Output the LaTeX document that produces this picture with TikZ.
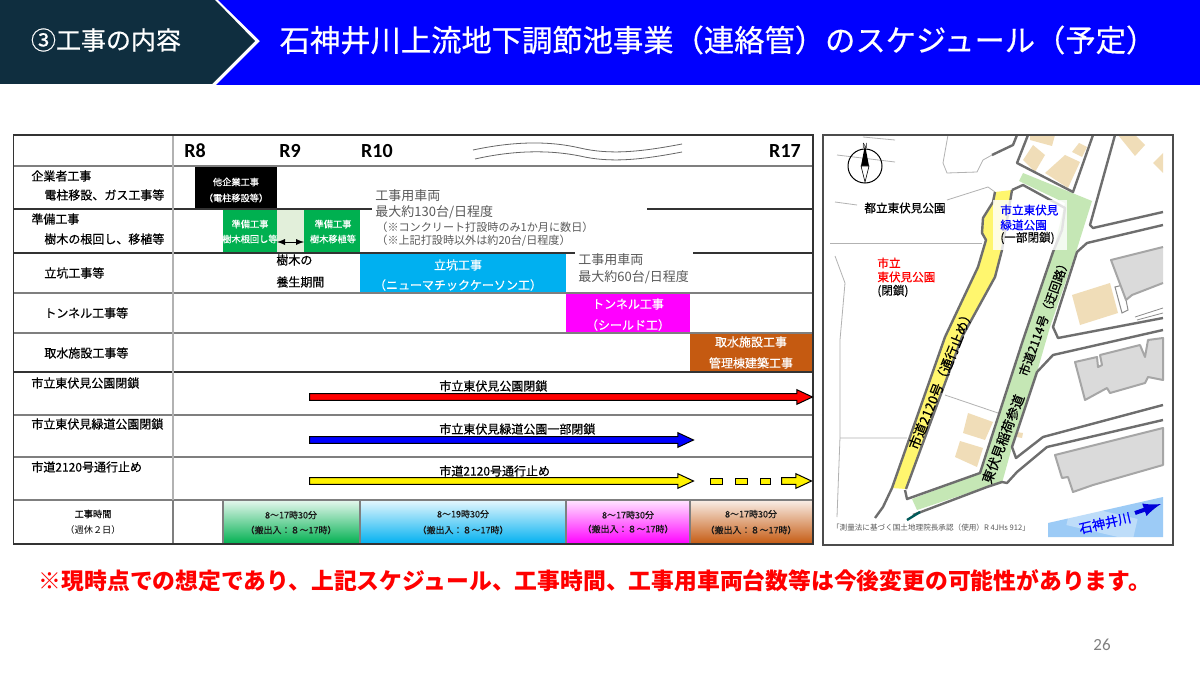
\documentclass[tikz,border=0pt]{standalone}
\usepackage{fontspec}
\setmainfont{Noto Sans CJK JP}
\newfontfamily\midfont[FakeBold=0.5]{Noto Sans CJK JP}
\newfontfamily\latinfont{Carlito}
\usetikzlibrary{shapes.arrows}
\definecolor{headdark}{HTML}{0F2E3F}
\definecolor{headblue}{HTML}{0000FF}
\definecolor{gridgray}{HTML}{7F7F7F}
\definecolor{greenbar}{HTML}{00B050}
\definecolor{greenpale}{HTML}{E2EFDA}
\definecolor{bluebar}{HTML}{00B0F0}
\definecolor{pinkbar}{HTML}{FF00FF}
\definecolor{brownbar}{HTML}{C55A11}
\definecolor{notegray}{HTML}{595959}
\definecolor{roadgray}{HTML}{6E6E6E}
\definecolor{roadgreen}{HTML}{C5E7B5}
\definecolor{roadyellow}{HTML}{FFF66E}
\definecolor{housetan}{HTML}{F0DDB8}
\definecolor{blockgray}{HTML}{DADADA}
\definecolor{rivercol}{HTML}{9CCBF6}
\begin{document}
\begin{tikzpicture}[
  x=0.5pt, y=-0.5pt,
  lab/.style={inner sep=0pt, font=\midfont\fontsize{6}{7}\selectfont},
  labl/.style={lab, anchor=west},
  barlab/.style={inner sep=0pt, text=white, font=\midfont\fontsize{4.6}{6}\selectfont},
  barbig/.style={inner sep=0pt, text=white, font=\midfont\fontsize{6}{7}\selectfont},
  hourlab/.style={inner sep=0pt, text=black!90, font=\midfont\fontsize{4.5}{6}\selectfont},
  yearlab/.style={inner sep=0pt, font=\latinfont\bfseries\fontsize{10}{11}\selectfont},
  carnote/.style={inner sep=0pt, anchor=west, text=notegray, font=\fontsize{6.5}{8}\selectfont},
  carsmall/.style={inner sep=0pt, anchor=west, text=notegray, font=\fontsize{5.55}{7}\selectfont},
  maplab/.style={inner sep=0pt, anchor=west, font=\midfont\fontsize{5.8}{7}\selectfont},
  roadlab/.style={inner sep=0pt, font=\midfont\fontsize{6.7}{8}\selectfont},
  barrow/.style={
    single arrow, draw=black, line width=0.5pt, anchor=tail,
    inner sep=0pt, text height=2.8pt, text depth=0pt, text width=0pt,
    single arrow head extend=2pt, single arrow tip angle=50,
    single arrow head indent=0pt
  },
  dashbox/.style={draw=black, line width=0.5pt, fill=yellow},
  rowline/.style={draw=gridgray, line width=0.7pt},
  rowdark/.style={draw=black!80, line width=0.7pt},
  road/.style={draw=roadgray, line width=1.2pt, line join=round},
  thinroad/.style={draw=black!30, line width=0.4pt},
  block/.style={draw=black!35, line width=1pt, fill=blockgray, line join=round}
]
\useasboundingbox (0,0) rectangle (1200,674);
\fill[white] (0,0) rectangle (1200,674);

% header
\fill[headblue] (218,0) -- (260,41) -- (216,85) -- (1200,85) -- (1200,0) -- cycle;
\fill[headdark] (0,0) -- (215,0) -- (255,41) -- (212,84) -- (0,84) -- cycle;
\node[inner sep=0pt, text=white, font=\midfont\fontsize{12.5}{14}\selectfont] (section) at (106,40) {③工事の内容};
\node[inner sep=0pt, text=white, font=\midfont\fontsize{15.15}{17}\selectfont] (title) at (718,40) {石神井川上流地下調節池事業（連絡管）のスケジュール（予定）};

% bars
\fill[black] (195,166) rectangle (277,209);
\fill[greenbar] (223,209) rectangle (277,253);
\fill[greenpale] (277,209) rectangle (304,253);
\fill[greenbar] (304,209) rectangle (360,253);
\fill[bluebar] (360,253) rectangle (566,293);
\fill[pinkbar] (566,293) rectangle (690,333);
\fill[brownbar] (690,333) rectangle (813,372);
\shade[top color=greenbar!10, bottom color=greenbar] (223,500) rectangle (360,544);
\shade[top color=bluebar!10, bottom color=bluebar] (360,500) rectangle (566,544);
\shade[top color=pinkbar!10, bottom color=pinkbar] (566,500) rectangle (690,544);
\shade[top color=brownbar!10, bottom color=brownbar] (690,500) rectangle (813,544);

% grid
\draw[rowline] (13.5,166) -- (813,166);
\draw[rowdark] (13.5,209) -- (372,209) (647,209) -- (813,209);
\draw[rowdark] (13.5,253) -- (575,253) (693,253) -- (813,253);
\draw[rowline] (13.5,293) -- (813,293);
\draw[rowline] (13.5,333) -- (813,333);
\draw[rowdark] (13.5,372) -- (813,372);
\draw[rowline] (13.5,415) -- (813,415);
\draw[rowline] (13.5,457) -- (813,457);
\draw[rowline] (13.5,500) -- (813,500);
\draw[draw=black!30, line width=0.7pt] (173,135) -- (173,500);
\draw[rowline] (173,500) -- (173,544) (223,500) -- (223,544) (360,500) -- (360,544) (566,500) -- (566,544) (690,500) -- (690,544);
\draw[rowdark] (13.5,135) rectangle (813,544);

% years
\node[yearlab] (yeara) at (195,151) {R8};
\node[yearlab] (yearb) at (290,151) {R9};
\node[yearlab] (yearc) at (377,151) {R10};
\node[yearlab] (yeard) at (785,151) {R17};
\draw[draw=black!60, line width=0.4pt] (473,150) .. controls (515,141) and (550,141) .. (580,148) .. controls (610,155) and (640,152) .. (682,144);
\draw[draw=black!60, line width=0.4pt] (475,159) .. controls (515,150) and (550,150) .. (580,156) .. controls (610,163) and (640,160) .. (682,152);

% left column
\node[labl] (rowa) at (31,176) {企業者工事};
\node[labl] (rowasub) at (44,195) {電柱移設、ガス工事等};
\node[labl] (rowb) at (31,219) {準備工事};
\node[labl] (rowbsub) at (44,239) {樹木の根回し、移植等};
\node[labl] (rowc) at (44,273) {立坑工事等};
\node[labl] (rowd) at (44,313) {トンネル工事等};
\node[labl] (rowe) at (44,353) {取水施設工事等};
\node[labl] (rowf) at (31,383) {市立東伏見公園閉鎖};
\node[labl] (rowg) at (31,424) {市立東伏見緑道公園閉鎖};
\node[labl] (rowh) at (31,467) {市道2120号通行止め};
\node[inner sep=0pt, font=\midfont\fontsize{4.6}{6}\selectfont] (rowi) at (93,514) {工事時間};
\node[inner sep=0pt, font=\fontsize{4.6}{6}\selectfont] (rowisub) at (93,530) {（週休２日）};

% bar texts
\node[barlab] (othera) at (236,182) {他企業工事};
\node[barlab] (otherb) at (236,198) {（電柱移設等）};
\node[barlab] (prepa) at (250,224) {準備工事};
\node[barlab] (prepb) at (250,239) {樹木根回し等};
\node[barlab] (prepc) at (333,224) {準備工事};
\node[barlab] (prepd) at (333,239) {樹木移植等};
\coordinate (curel) at (277,242);
\coordinate (curer) at (304,242);
\draw[latex-latex, line width=0.4pt] (curel) -- (curer);
\node[labl] (curea) at (276,260) {樹木の};
\node[labl] (cureb) at (276,282) {養生期間};
\node[barbig] (shafta) at (458,265) {立坑工事};
\node[barbig] (shaftb) at (458,285) {（ニューマチックケーソン工）};
\node[barbig] (tunnela) at (628,304) {トンネル工事};
\node[barbig] (tunnelb) at (628,325) {（シールド工）};
\node[barbig] (intakea) at (751,342) {取水施設工事};
\node[barbig] (intakeb) at (751,363) {管理棟建築工事};

% vehicle notes
\node[carnote] (cara) at (375,196) {工事用車両};
\node[carnote] (carb) at (375,212) {最大約130台/日程度};
\node[carsmall] (carc) at (376,227) {（※コンクリート打設時のみ1か月に数日）};
\node[carsmall] (card) at (376,241) {（※上記打設時以外は約20台/日程度）};
\node[carnote] (care) at (578,260) {工事用車両};
\node[carnote] (carf) at (578,277) {最大約60台/日程度};

% closure arrows
\node[barrow, fill=red, minimum height=251.5pt] (parkbar) at (309,397) {};
\node[barrow, fill=blue, minimum height=192pt] (greenway) at (309,440) {};
\node[barrow, fill=yellow, minimum height=192pt] (roadbar) at (309,481) {};
\node[dashbox, minimum width=6pt, minimum height=3pt, inner sep=0pt] (dasha) at (716,481) {};
\node[dashbox, minimum width=6pt, minimum height=3pt, inner sep=0pt] (dashb) at (741,481) {};
\node[dashbox, minimum width=5pt, minimum height=3pt, inner sep=0pt] (dashc) at (765,481) {};
\node[barrow, fill=yellow, minimum height=15pt] (dashend) at (781,481) {};
\node[labl] (parktxt) at (439,386) {市立東伏見公園閉鎖};
\node[labl] (greentxt) at (439,429) {市立東伏見緑道公園一部閉鎖};
\node[labl] (roadtxt) at (439,471) {市道2120号通行止め};

% hours
\node[hourlab] (hoursa) at (291,515) {8～17時30分};
\node[hourlab] (hoursb) at (291,530) {（搬出入：８～17時）};
\node[hourlab] (hoursc) at (463,514) {8～19時30分};
\node[hourlab] (hoursd) at (463,530) {（搬出入：８～17時）};
\node[hourlab] (hourse) at (628,515) {8～17時30分};
\node[hourlab] (hoursf) at (628,529) {（搬出入：８～17時）};
\node[hourlab] (hoursg) at (751,514) {8～17時30分};
\node[hourlab] (hoursh) at (751,530) {（搬出入：８～17時）};

% map
\draw[thinroad] (948,135) -- (943,163) -- (947,173) -- (977,172) -- (983,160) -- (992,155);
\draw[thinroad] (835,202) -- (857,205) (947,200) -- (988,187) -- (995,192);
\draw[thinroad] (830,243) -- (982,243);
\draw[thinroad] (835,256) -- (845,283) -- (840,340) -- (840,437) -- (837,517);
\draw[thinroad] (840,438) -- (907,438) (945,395) -- (998,413);
\draw[thinroad] (837,155) -- (895,162) (863,137) -- (895,140);
\fill[housetan] (1023,160) -- (1033,145) -- (1045,155) -- (1035,172) -- cycle;
\fill[housetan] (1030,135) -- (1055,135) -- (1052,146) -- (1030,140) -- cycle;
\fill[housetan] (1045,173) -- (1065,155) -- (1080,162) -- (1068,188) -- cycle;
\fill[housetan] (1072,152) -- (1079,143) -- (1087,147) -- (1082,157) -- cycle;
\fill[housetan] (1118,135) -- (1135,135) -- (1145,145) -- (1135,156) -- cycle;
\fill[housetan] (1153,163) -- (1163,153) -- (1163,173) -- cycle;
\fill[housetan] (1072,295) -- (1110,283) -- (1118,313) -- (1080,325) -- cycle;
\fill[housetan] (968,413) -- (993,422) -- (985,440) -- (963,433) -- cycle;
\fill[housetan] (960,441) -- (983,448) -- (977,467) -- (955,457) -- cycle;
\fill[housetan] (1017,432) -- (1023,433) -- (1022,438) -- (1017,437) -- cycle;
\draw[draw=black!45, line width=0.5pt, fill=white] (1115,287) -- (1123,285) -- (1128,310) -- (1122,313) -- cycle;
\draw[draw=black!45, line width=0.4pt] (1135,317) -- (1163,308) (1137,320) -- (1163,313);
\fill[blockgray] (1163,247) -- (1111,260) -- (1126,300) -- (1132,295) -- (1163,283) -- cycle;
\draw[block, fill=none] (1163,247) -- (1111,260) -- (1126,300) -- (1132,295) -- (1163,283);
\draw[block] (1075,362) -- (1097,357) -- (1098,367) -- (1102,365) -- (1100,355) -- (1140,345) -- (1145,357) -- (1148,340) -- (1163,338) -- (1163,380) -- (1148,377) -- (1145,383) -- (1110,393) -- (1107,388) -- (1085,400) -- cycle;
\draw[block] (1055,455) -- (1163,428) -- (1163,465) -- (1093,485) -- (1073,492) -- (1068,477) -- (1062,478) -- cycle;
\fill[roadyellow] (995,192) -- (993,202) -- (983,218) -- (982,233) -- (986,240) -- (978,267) -- (945,337) -- (892,488) -- (906,489) -- (962,337) -- (995,277) -- (1002,250) -- (1012,190) -- cycle;
\fill[roadgreen] (1019,181) -- (1023,173) -- (1092,201) -- (1076,252) -- (1050,327) -- (1037,372) -- (1012,447) -- (1002,483) -- (983,488) -- (917,510) -- (912,499) -- (980,473) -- (1023,340) -- (1053,252) -- (1065,203) -- cycle;
\draw[road] (995,192) -- (993,202) -- (983,218) -- (982,233) -- (986,240) -- (978,267) -- (945,337) -- (892,488) -- (883,507) -- (875,518);
\draw[road] (1012,190) -- (1002,250) -- (995,277) -- (962,337) -- (906,489);
\draw[road] (1012,190) -- (1023,185) -- (1065,208) -- (1062,230) -- (1053,252) -- (1023,340) -- (980,473) -- (907,499) -- (905,490);
\draw[road] (1028,135) -- (1017,163) -- (1073,192) -- (1093,135);
\draw[road] (992,155) -- (1013,145) -- (1017,135);
\draw[road] (1115,135) -- (1090,225) -- (1093,228) -- (1163,212);
\draw[road] (1163,225) -- (1087,243) -- (1077,252) -- (1053,327) -- (1058,338) -- (1163,318);
\draw[road] (1163,330) -- (1053,355) -- (1037,372) -- (1012,447) -- (1016,458) -- (1043,437) -- (1163,405);
\draw[road] (1163,420) -- (1047,447) -- (1017,472) -- (1007,483) -- (1002,482) -- (987,487) -- (913,515);
\draw[draw=teal!70!black, line width=1.2pt] (907,520) -- (920,512);
\fill[white, fill opacity=0.8] (993,200) rectangle (1067,250);
\fill[rivercol] (1048,537) -- (1048,523) -- (1163,497) -- (1163,537) -- cycle;
\fill[white, fill opacity=0.35, rotate around={-13:(1102,522)}] (1068,511) rectangle (1136,533);
\node[roadlab, text=blue, rotate=13, font=\midfont\fontsize{6.6}{8}\selectfont] (river) at (1105,523) {石神井川};
\coordinate (flowa) at (1135,513);
\coordinate (flowb) at (1161,504);
\draw[blue!85!black, line width=2pt, -latex] (flowa) -- (flowb);
\node[inner sep=0pt, font=\fontsize{3.8}{4}\selectfont, text=notegray] (survey) at (931,528) {「測量法に基づく国土地理院長承認（使用）R 4JHs 912」};

\node[maplab] (parkname) at (864,208) {都立東伏見公園};
\node[maplab, text=blue] (greena) at (1000,210) {市立東伏見};
\node[maplab, text=blue] (greenb) at (1000,225) {緑道公園};
\node[maplab] (greenc) at (1000,238) {(一部閉鎖)};
\node[maplab, text=red] (closeda) at (877,263) {市立};
\node[maplab, text=red] (closedb) at (877,277) {東伏見公園};
\node[maplab] (closedc) at (877,291) {(閉鎖)};
\node[roadlab, rotate=68] (roadnamea) at (941,379) {市道2120号（通行止め）};
\node[roadlab, rotate=70, font=\midfont\fontsize{6.1}{7}\selectfont] (roadnameb) at (1044,317) {市道2114号（迂回路）};
\node[roadlab, rotate=69] (roadnamec) at (1003,439) {東伏見稲荷参道};

% compass
\draw[line width=0.5pt] (865,166) circle (17);
\fill[black] (865,145) -- (869,166) -- (861,166) -- cycle;
\draw[fill=white, line width=0.3pt] (861,166) -- (869,166) -- (865,182) -- cycle;
\node[inner sep=0pt, font=\fontsize{3.5}{4}\selectfont] (north) at (865,146) {N};
\draw[draw=black!70, line width=0.7pt] (823,135) rectangle (1173,545);

% footer
\node[inner sep=0pt, text=red, font=\bfseries\fontsize{11.4}{13}\selectfont] (caveat) at (595,581) {※現時点での想定であり、上記スケジュール、工事時間、工事用車両台数等は今後変更の可能性があります。};
\node[inner sep=0pt, text=black!50, font=\latinfont\fontsize{8.5}{10}\selectfont] (pageno) at (1102,645) {26};
\end{tikzpicture}
\end{document}
